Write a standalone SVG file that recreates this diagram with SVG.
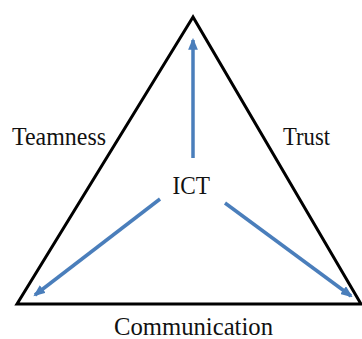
<svg xmlns="http://www.w3.org/2000/svg" width="362" height="339" viewBox="0 0 362 339">
<style>
.lbl{font-family:"Liberation Serif","Times New Roman",serif;font-size:25px;fill:#111}
.edge{stroke:#000;stroke-width:3;fill:none}
.arr{stroke:#4a7ebb;stroke-width:3.5;fill:none}
</style>
<defs>
<marker id="ah" markerWidth="3.4" markerHeight="2.8" refX="2.8" refY="1.4" orient="auto" markerUnits="strokeWidth">
<path d="M0,0 L3.4,1.4 L0,2.8 Z" fill="#4a7ebb"/>
</marker>
</defs>
<rect width="362" height="339" fill="#fff"/>
<g id="triangle">
<path class="edge" d="M193,17 L17,304 L361,304 Z" stroke-linejoin="miter"/>
</g>
<g id="connectors">
<line class="arr" x1="193" y1="158" x2="193" y2="40" marker-end="url(#ah)"/>
<line class="arr" x1="160" y1="199" x2="35" y2="295" marker-end="url(#ah)"/>
<line class="arr" x1="225" y1="203" x2="351" y2="296" marker-end="url(#ah)"/>
</g>
<g id="teamness"><text class="lbl" x="12" y="145" textLength="94" lengthAdjust="spacingAndGlyphs">Teamness</text></g>
<g id="trust"><text class="lbl" x="283" y="145" textLength="47" lengthAdjust="spacingAndGlyphs">Trust</text></g>
<g id="ict"><text class="lbl" x="172.5" y="194" textLength="37.5" lengthAdjust="spacingAndGlyphs">ICT</text></g>
<g id="communication"><text class="lbl" x="114" y="334.5" textLength="159" lengthAdjust="spacingAndGlyphs">Communication</text></g>
</svg>
